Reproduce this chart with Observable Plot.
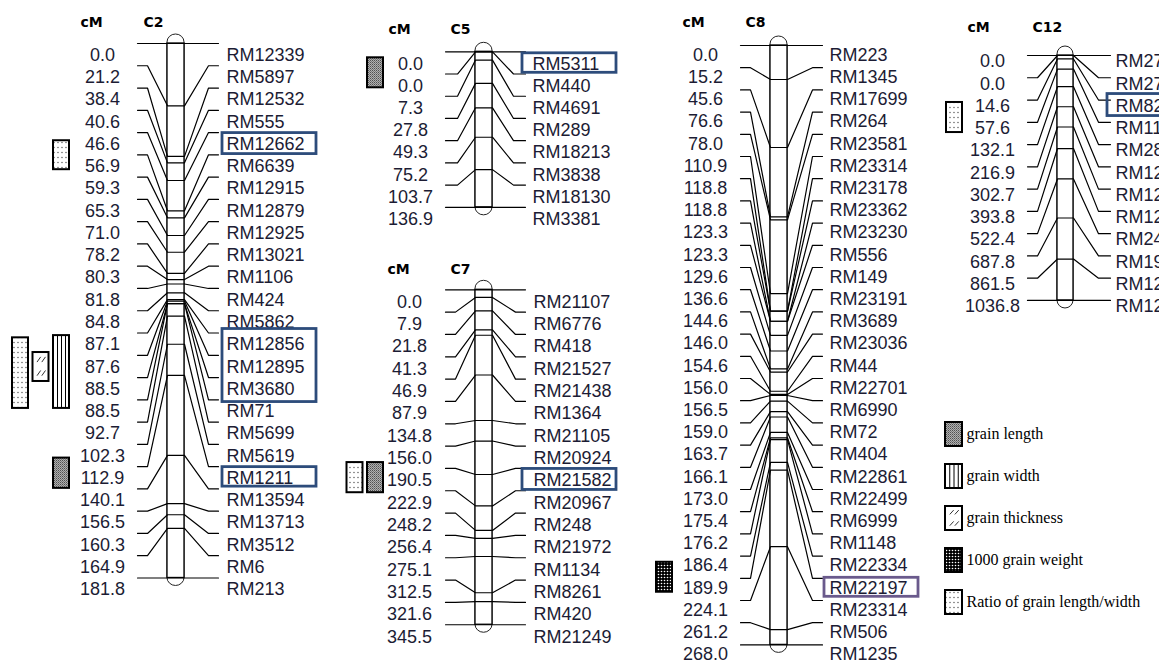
<!DOCTYPE html>
<html><head><meta charset="utf-8">
<script src="https://cdn.jsdelivr.net/npm/d3@7"></script>
<script src="https://cdn.jsdelivr.net/npm/@observablehq/plot@0.6"></script>
<style>html,body{margin:0;background:#fff;overflow:hidden} svg{display:block}</style>
</head><body><div id="chart"></div>
<script>
// ---------------- DATA ----------------
const chromosomes = ["C2", "C5", "C7", "C8", "C12"];

const c2Markers = ["RM12339","RM5897","RM12532","RM555","RM12662","RM6639","RM12915","RM12879","RM12925","RM13021","RM1106","RM424","RM5862","RM12856","RM12895","RM3680","RM71","RM5699","RM5619","RM1211","RM13594","RM13713","RM3512","RM6","RM213"];
const c2Pos = [0.0,21.2,38.4,40.6,46.6,56.9,59.3,65.3,71.0,78.2,80.3,81.8,84.8,87.1,87.6,88.5,88.5,92.7,102.3,112.9,140.1,156.5,160.3,164.9,181.8];

const c5Markers = ["RM5311","RM440","RM4691","RM289","RM18213","RM3838","RM18130","RM3381"];
const c5Pos = [0.0,0.0,7.3,27.8,49.3,75.2,103.7,136.9];

const c7Markers = ["RM21107","RM6776","RM418","RM21527","RM21438","RM1364","RM21105","RM20924","RM21582","RM20967","RM248","RM21972","RM1134","RM8261","RM420","RM21249"];
const c7Pos = [0.0,7.9,21.8,41.3,46.9,87.9,134.8,156.0,190.5,222.9,248.2,256.4,275.1,312.5,321.6,345.5];

const c8Markers = ["RM223","RM1345","RM17699","RM264","RM23581","RM23314","RM23178","RM23362","RM23230","RM556","RM149","RM23191","RM3689","RM23036","RM44","RM22701","RM6990","RM72","RM404","RM22861","RM22499","RM6999","RM1148","RM22334","RM22197","RM23314","RM506","RM1235"];
const c8Pos = [0.0,15.2,45.6,76.6,78.0,110.9,118.8,118.8,123.3,123.3,129.6,136.6,144.6,146.0,154.6,156.0,156.5,159.0,163.7,166.1,173.0,175.4,176.2,186.4,189.9,224.1,261.2,268.0];

const c12Markers = ["RM27877","RM27933","RM8214","RM1103","RM28746","RM1246","RM1227","RM1261","RM2462","RM1986","RM1226","RM1230"];
const c12Pos = [0.0,0.0,14.6,57.6,132.1,216.9,302.7,393.8,522.4,687.8,861.5,1036.8];

// highlighted markers (row index ranges)
const hlChr  = ["C2","C2","C2","C5","C7","C8","C12"];
const hlFrom = [4,13,19,0,8,24,2];
const hlTo   = [4,15,19,0,8,24,2];

// QTL boxes (extent in label rows)
const qtlChr   = ["C2","C2","C2","C2","C2","C5","C7","C7","C8","C12"];
const qtlTrait = ["ratio","ratio","thickness","width","length","length","ratio","length","weight","ratio"];
const qtlFrom  = [3.85,12.7,13.36,12.6,18.1,-0.27,7.2,7.2,22.85,1.84];
const qtlTo    = [5.15,15.87,14.66,15.87,19.46,1.08,8.55,8.55,24.2,3.19];

// legend
const legendTraits = ["length","width","thickness","weight","ratio"];
const legendLabels = ["grain length","grain width","grain thickness","1000 grain weight","Ratio of grain length/width"];

// ---------------- LAYOUT / STYLE ----------------
const markerNames = {C2:c2Markers, C5:c5Markers, C7:c7Markers, C8:c8Markers, C12:c12Markers};
const markerPos   = {C2:c2Pos, C5:c5Pos, C7:c7Pos, C8:c8Pos, C12:c12Pos};
const layout = {
  C2: {lineTop:43,   step:22.27, textOff:11.5, numX:102, cmX:80,  headY:22,  nameX:143,  hx0:137,  hx1:147,  cx0:167,  cx1:184,  rx0:208,  rx1:218,  labelX:226,  boxX:222,  laneR:69,  hl:"#2d4c7b"},
  C5: {lineTop:51.3, step:22.22, textOff:12,   numX:410, cmX:388, headY:29,  nameX:450,  hx0:445,  hx1:457,  cx0:475,  cx1:492,  rx0:513,  rx1:525,  labelX:532,  boxX:522,  laneR:383, hl:"#2d4c7b"},
  C7: {lineTop:289.3,step:22.33, textOff:12,   numX:409, cmX:387, headY:269, nameX:450,  hx0:445,  hx1:455,  cx0:475,  cx1:492,  rx0:515,  rx1:525,  labelX:533,  boxX:522,  laneR:383, hl:"#2d4c7b"},
  C8: {lineTop:45,   step:22.2,  textOff:9.5,  numX:705, cmX:682, headY:22,  nameX:745,  hx0:740,  hx1:750,  cx0:770,  cx1:787,  rx0:812,  rx1:822,  labelX:829,  boxX:824,  laneR:672, hl:"#6a5a8c"},
  C12:{lineTop:55,   step:22.27, textOff:6,    numX:992, cmX:967, headY:27,  nameX:1032, hx0:1027, hx1:1037, cx0:1057, cx1:1073, rx0:1098, rx1:1110, labelX:1115, boxX:1107, laneR:962, hl:"#2d4c7b"}
};
const hlPad = [[11, 10], [15.5, 13], [11, 8.5], [10.5, 9], [11.5, 9.5], [10, 9], [12, 10]];
const qtlLane = [2,0,1,2,2,2,1,2,2,2];
const traitFill = {length:"url(#p-length)", width:"#fff", thickness:"#fff", weight:"url(#p-weight)", ratio:"url(#p-ratio)"};
const LEG = {x1:945, x2:962, textX:966, y0:433, dy:42};
const W = 1159, H = 664;
const SANS = "Liberation Sans, Arial, sans-serif";
const TXT = "#1c1c34";

// ---------------- DERIVED TABLES ----------------
const pathPts = [], rows = [], chromo = [], heads = [];
chromosomes.forEach(c => {
  const L = layout[c], names = markerNames[c], pos = markerPos[c];
  const n = names.length, max = pos[n - 1], span = (n - 1) * L.step;
  const yPos = v => L.lineTop + v / max * span;
  names.forEach((nm, i) => {
    const yr = L.lineTop + i * L.step, yp = yPos(pos[i]), key = c + "-" + i;
    [[L.hx0, yr], [L.hx1, yr], [L.cx0, yp], [L.cx1, yp], [L.rx0, yr], [L.rx1, yr]]
      .forEach(([x, y]) => pathPts.push({key, x, y}));
    rows.push({cm: pos[i].toFixed(1), name: nm, nx: L.numX, lx: L.labelX, y: yr + L.textOff});
  });
  chromo.push({x1: L.cx0, x2: L.cx1, y1: L.lineTop, y2: L.lineTop + span});
  heads.push({t: "cM", x: L.cmX, y: L.headY}, {t: c, x: L.nameX, y: L.headY});
});
const tc = (c, r) => layout[c].lineTop + layout[c].textOff + r * layout[c].step;

const hlBoxes = hlChr.map((c, i) => ({
  x1: layout[c].boxX, x2: layout[c].boxX + 94,
  y1: tc(c, hlFrom[i]) - hlPad[i][0], y2: tc(c, hlTo[i]) + hlPad[i][1], stroke: layout[c].hl
}));

const qtlBoxes = qtlChr.map((c, i) => {
  const x2 = layout[c].laneR - (2 - qtlLane[i]) * 20.5;
  return {trait: qtlTrait[i], x1: x2 - 16, x2, y1: tc(c, qtlFrom[i]), y2: tc(c, qtlTo[i])};
});
const legBoxes = legendTraits.map((t, i) => ({
  trait: t, label: legendLabels[i], x1: LEG.x1, x2: LEG.x2,
  y1: LEG.y0 + i * LEG.dy - 11, y2: LEG.y0 + i * LEG.dy + 13, ty: LEG.y0 + i * LEG.dy
}));
const allBoxes = qtlBoxes.concat(legBoxes);

const widthRules = [], hatch = [];
allBoxes.forEach(b => {
  const w = b.x2 - b.x1, h = b.y2 - b.y1;
  if (b.trait === "width") [0.25, 0.5, 0.75].forEach(k => widthRules.push({x: b.x1 + w * k, y1: b.y1, y2: b.y2}));
  if (b.trait === "thickness") [0.33, 0.8].forEach(f => [0, 1].forEach(k => {
    const yb = b.y1 + h * f;
    hatch.push({x1: b.x1 + w * (0.25 + 0.3 * k), y1: yb, x2: b.x1 + w * (0.48 + 0.3 * k), y2: yb - Math.min(6, h * 0.18)});
  }));
});

// ---------------- PLOT ----------------
const plot = Plot.plot({
  width: W, height: H,
  marginTop: 0, marginRight: 0, marginBottom: 0, marginLeft: 0,
  x: {domain: [0, W], range: [0, W], axis: null},
  y: {domain: [0, H], range: [0, H], axis: null},
  color: {type: "identity"},
  style: {background: "#fff"},
  marks: [
    Plot.rect(chromo, {x1: "x1", x2: "x2", y1: d => d.y1 - 9, y2: d => d.y2 + 8, rx: 8.5, ry: 8, fill: "#fff", stroke: "#222", strokeWidth: 1}),
    Plot.rect(chromo, {x1: "x1", x2: "x2", y1: "y1", y2: "y2", fill: "#fff", stroke: "#000", strokeWidth: 1.3}),
    Plot.line(pathPts, {x: "x", y: "y", z: "key", stroke: "#000", strokeWidth: 1.2}),
    Plot.text(rows, {x: "nx", y: "y", text: "cm", fontSize: 18, fontFamily: SANS, fill: TXT, textAnchor: "middle"}),
    Plot.text(rows, {x: "lx", y: "y", text: "name", fontSize: 18, fontFamily: SANS, fill: TXT, textAnchor: "start"}),
    Plot.text(heads, {x: "x", y: "y", text: "t", fontSize: 14, fontWeight: "bold", fontFamily: "DejaVu Sans, sans-serif", fill: "#000", textAnchor: "start"}),
    Plot.rect(hlBoxes, {x1: "x1", x2: "x2", y1: "y1", y2: "y2", fill: "none", stroke: "stroke", strokeWidth: 2.8}),
    Plot.rect(allBoxes, {x1: "x1", x2: "x2", y1: "y1", y2: "y2", fill: d => traitFill[d.trait], stroke: "#000", strokeWidth: 2}),
    Plot.ruleX(widthRules, {x: "x", y1: "y1", y2: "y2", stroke: "#000", strokeWidth: 1}),
    Plot.link(hatch, {x1: "x1", y1: "y1", x2: "x2", y2: "y2", stroke: "#333", strokeWidth: 1}),
    Plot.text(legBoxes, {x: LEG.textX, y: "ty", text: "label", fontSize: 16, fontFamily: "Liberation Serif, Times New Roman, serif", fill: "#000", textAnchor: "start"})
  ]
});

// pattern definitions used by the QTL fills
const defs = d3.select(plot).insert("defs", ":first-child");
let p = defs.append("pattern").attr("id", "p-length").attr("patternUnits", "userSpaceOnUse").attr("width", 2).attr("height", 2);
p.append("rect").attr("width", 2).attr("height", 2).attr("fill", "#b0b0b0");
p.append("rect").attr("width", 1).attr("height", 1).attr("fill", "#505050");
p.append("rect").attr("x", 1).attr("y", 1).attr("width", 1).attr("height", 1).attr("fill", "#787878");
p = defs.append("pattern").attr("id", "p-weight").attr("patternUnits", "userSpaceOnUse").attr("width", 3).attr("height", 3);
p.append("rect").attr("width", 3).attr("height", 3).attr("fill", "#000");
p.append("circle").attr("cx", 1.5).attr("cy", 1.5).attr("r", 0.8).attr("fill", "#fff");
p = defs.append("pattern").attr("id", "p-ratio").attr("patternUnits", "userSpaceOnUse").attr("width", 4).attr("height", 5);
p.append("rect").attr("width", 4).attr("height", 5).attr("fill", "#fff");
p.append("circle").attr("cx", 2).attr("cy", 2.5).attr("r", 0.65).attr("fill", "#444");

document.getElementById("chart").append(plot);
</script>
</body></html>
